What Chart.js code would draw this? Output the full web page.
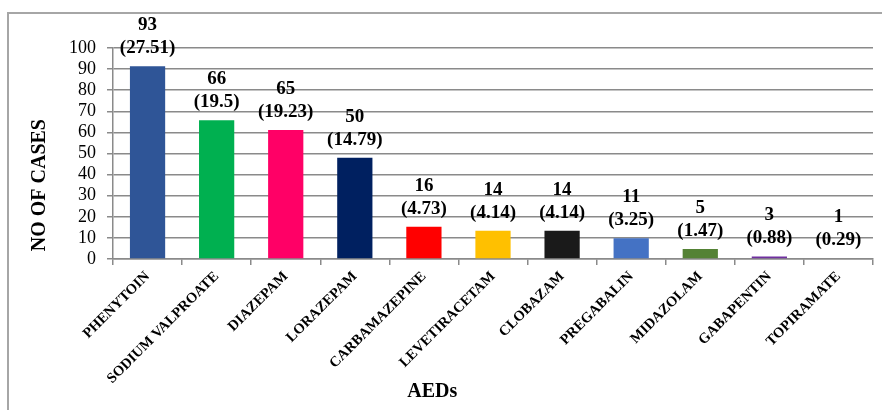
<!DOCTYPE html>
<html>
<head>
<meta charset="utf-8">
<script src="https://cdn.jsdelivr.net/npm/chart.js@4"></script>
<style>
  html, body { margin: 0; padding: 0; background: #fff; }
  #wrap { position: relative; width: 882px; height: 410px; }
  #frame { position: absolute; left: 7px; top: 12px; right: 0; bottom: 0;
           border-left: 2px solid #a6a6a6; border-top: 2px solid #a6a6a6; pointer-events: none; }
  canvas { position: absolute; left: 0; top: 0; }
</style>
</head>
<body>
<div id="wrap">
  <canvas id="c" width="882" height="410"></canvas>
  <div id="frame"></div>
</div>
<script>
// Categories (AEDs)
const categories = ["PHENYTOIN", "SODIUM VALPROATE", "DIAZEPAM", "LORAZEPAM", "CARBAMAZEPINE",
  "LEVETIRACETAM", "CLOBAZAM", "PREGABALIN", "MIDAZOLAM", "GABAPENTIN", "TOPIRAMATE"];
// Bar heights as drawn in the picture
const barValues = [91.3, 65.7, 61.1, 48, 15.3, 13.4, 13.4, 9.8, 4.7, 1.2, 0.3];
// Label texts shown above bars
const caseCounts = ["93", "66", "65", "50", "16", "14", "14", "11", "5", "3", "1"];
const percentages = ["(27.51)", "(19.5)", "(19.23)", "(14.79)", "(4.73)", "(4.14)", "(4.14)", "(3.25)", "(1.47)", "(0.88)", "(0.29)"];
// Bar colours
const barColors = ["#2F5597", "#00B050", "#FF0066", "#002060", "#FF0000", "#FFC000",
  "#1A1A1A", "#4472C4", "#548235", "#7030A0", "#A5A5A5"];
// Y axis ticks
const yTicks = [0, 10, 20, 30, 40, 50, 60, 70, 80, 90, 100];

const SERIF = "'Liberation Serif', 'Times New Roman', serif";

const labelPlugin = {
  id: 'barLabels',
  afterDatasetsDraw(chart) {
    const ctx = chart.ctx;
    const meta = chart.getDatasetMeta(0);
    ctx.save();
    ctx.fillStyle = '#000';
    ctx.font = 'bold 19px ' + SERIF;
    ctx.textAlign = 'center';
    ctx.textBaseline = 'middle';
    meta.data.forEach((bar, i) => {
      const x = bar.x, top = bar.y;
      ctx.fillText(caseCounts[i], x, top - 41);
      ctx.fillText(percentages[i], x, top - 18);
    });
    ctx.restore();
  }
};

const titlePlugin = {
  id: 'axisTitles',
  afterDraw(chart) {
    const ctx = chart.ctx;
    const a = chart.chartArea;
    ctx.save();
    ctx.fillStyle = '#000';
    ctx.font = 'bold 20px ' + SERIF;
    ctx.textAlign = 'center';
    ctx.textBaseline = 'middle';
    ctx.fillText('AEDs', a.left + (a.right - a.left) * 0.42, 392);
    ctx.translate(40, a.top + (a.bottom - a.top) * 0.65);
    ctx.rotate(-Math.PI / 2);
    ctx.fillText('NO OF CASES', 0, 0);
    ctx.restore();
  }
};

new Chart(document.getElementById('c'), {
  type: 'bar',
  data: {
    labels: categories,
    datasets: [{
      data: barValues,
      backgroundColor: barColors,
      borderWidth: 0,
      categoryPercentage: 1.0,
      barPercentage: 0.51
    }]
  },
  options: {
    responsive: false,
    animation: false,
    events: [],
    layout: { padding: { top: 48, left: 0, right: 9, bottom: 0 } },
    plugins: { legend: { display: false }, tooltip: { enabled: false } },
    scales: {
      x: {
        grid: { display: true, offset: true, drawOnChartArea: false, drawTicks: true,
                tickLength: 6, color: '#8a8a8a', lineWidth: 1.5 },
        border: { display: true, color: '#8a8a8a', width: 1.5 },
        ticks: { color: '#000', font: { family: SERIF, size: 14.5, weight: 'bold' },
                 minRotation: 45, maxRotation: 45, autoSkip: false, padding: 3 },
        afterFit(scale) { scale.height = 151; }
      },
      y: {
        min: 0, max: 100,
        afterBuildTicks(scale) { scale.ticks = yTicks.map(v => ({ value: v })); },
        grid: { display: true, drawOnChartArea: true, color: '#8a8a8a', lineWidth: 1.5, tickLength: 6 },
        border: { display: true, color: '#8a8a8a', width: 1.5 },
        ticks: { color: '#000', font: { family: SERIF, size: 18 }, padding: 11, autoSkip: false },
        afterFit(scale) { scale.width = 113; }
      }
    }
  },
  plugins: [labelPlugin, titlePlugin]
});
</script>
</body>
</html>
